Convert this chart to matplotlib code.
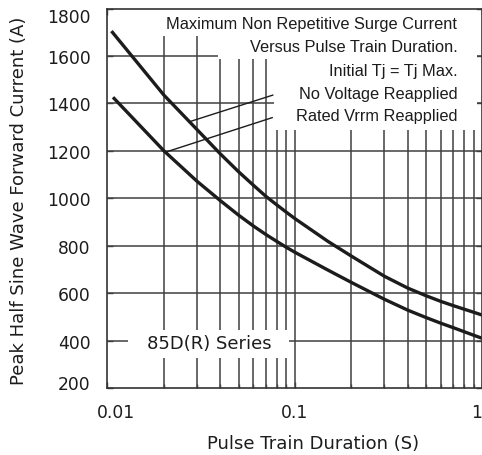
import matplotlib
matplotlib.use("Agg")
import matplotlib.pyplot as plt
import matplotlib.transforms as mtransforms
from matplotlib.patches import Polygon, Rectangle

# ---- data ----
no_voltage_x = [0.0105, 0.02, 0.03, 0.04, 0.05, 0.06, 0.07, 0.08, 0.09, 0.1,
                0.15, 0.2, 0.3, 0.4, 0.5, 0.6, 0.7, 0.8, 0.9, 1.0]
no_voltage_y = [1705, 1435, 1290, 1187, 1112, 1055, 1008, 972, 941, 914,
                818, 756, 671, 621, 589, 565, 547, 532, 519, 507]

rated_vrrm_x = [0.0107, 0.02, 0.03, 0.04, 0.05, 0.06, 0.07, 0.08, 0.09, 0.1,
                0.15, 0.2, 0.3, 0.4, 0.5, 0.6, 0.7, 0.8, 0.9, 1.0]
rated_vrrm_y = [1426, 1200, 1072, 990, 929, 883, 847, 818, 793, 772,
                697, 645, 574, 528, 497, 473, 454, 437, 422, 409]

x_ticks = [0.01, 0.1, 1]
x_tick_labels = ["0.01", "0.1", "1"]
y_ticks = [200, 400, 600, 800, 1000, 1200, 1400, 1600, 1800]

info_lines = ["Maximum Non Repetitive Surge Current",
              "Versus Pulse Train Duration.",
              "Initial Tj = Tj Max.",
              "No Voltage Reapplied",
              "Rated Vrrm Reapplied"]
series_label = "85D(R) Series"

# leader lines: (point on curve) -> (text end)
leader_no_voltage = [(0.0274, 1323), (0.0761, 1435)]
leader_rated = [(0.0205, 1195), (0.0756, 1340)]

# ---- figure ----
fig = plt.figure(figsize=(4.82, 4.56), dpi=100)
ax = fig.add_axes([0.223, 0.147, 0.778, 0.832])
ax.set_xscale("log")
ax.set_xlim(0.01, 1)
ax.set_ylim(200, 1800)

ink = "#1c1c1c"
gridc = "#404040"

# grid lines (manual so white boxes can cover them)
for dec in (0.01, 0.1):
    for k in range(1, 10):
        v = dec * k
        if v > 0.01:
            ax.axvline(v, color=gridc, lw=1.1, zorder=1)
for yv in y_ticks[1:-1]:
    ax.axhline(yv, color=gridc, lw=1.1, zorder=1)

# white background behind the text block
poly = Polygon([(0.135, 1.0), (0.986, 1.0), (0.986, 0.680), (0.443, 0.680),
                (0.443, 0.867), (0.295, 0.867), (0.295, 0.9275), (0.135, 0.9275)],
               closed=True, transform=ax.transAxes, facecolor="white",
               edgecolor="none", zorder=2)
ax.add_patch(poly)
ax.add_patch(Rectangle((0.055, 0.079), 0.429, 0.074, transform=ax.transAxes,
                       facecolor="white", edgecolor="none", zorder=2))

# curves
ax.plot(no_voltage_x, no_voltage_y, color=ink, lw=2.4, zorder=3,
        solid_capstyle="butt", solid_joinstyle="round")
ax.plot(rated_vrrm_x, rated_vrrm_y, color=ink, lw=2.4, zorder=3,
        solid_capstyle="butt", solid_joinstyle="round")

# leader lines
for seg in (leader_no_voltage, leader_rated):
    ax.plot([seg[0][0], seg[1][0]], [seg[0][1], seg[1][1]], color=ink,
            lw=1.0, zorder=3)

# text block
ys = [0.960, 0.899, 0.837, 0.777, 0.719]
for t, yy in zip(info_lines, ys):
    ax.text(0.933, yy, t, transform=ax.transAxes, ha="right", va="center",
            fontsize=11.8, family="Liberation Sans", color=ink, zorder=4)

ax.text(0.272, 0.118, series_label, transform=ax.transAxes, ha="center",
        va="center", fontsize=13, family="DejaVu Sans", color=ink, zorder=4)

# ticks
ax.set_xticks(x_ticks)
ax.set_xticklabels(x_tick_labels)
ax.set_yticks(y_ticks)
ax.set_yticklabels([str(v) for v in y_ticks])
ax.tick_params(which="both", direction="in", top=True, right=True,
               color=gridc, width=1.0)
ax.tick_params(which="major", length=4)
ax.tick_params(which="minor", length=3)
ax.tick_params(axis="y", pad=12)
ax.tick_params(axis="x", pad=11)
for lab in ax.get_xticklabels() + ax.get_yticklabels():
    lab.set_family("DejaVu Sans")
    lab.set_fontsize(12.3)
    lab.set_color(ink)
ax.xaxis.set_minor_formatter(matplotlib.ticker.NullFormatter())

# shift extreme labels inward like the reference
ylabs = ax.get_yticklabels()
ylabs[-1].set_transform(ylabs[-1].get_transform() +
                        mtransforms.ScaledTranslation(0, -6 / 100, fig.dpi_scale_trans))
ylabs[0].set_transform(ylabs[0].get_transform() +
                       mtransforms.ScaledTranslation(0, 6 / 100, fig.dpi_scale_trans))
xlabs = ax.get_xticklabels()
xlabs[0].set_transform(xlabs[0].get_transform() +
                       mtransforms.ScaledTranslation(9 / 100, 0, fig.dpi_scale_trans))
xlabs[-1].set_transform(xlabs[-1].get_transform() +
                        mtransforms.ScaledTranslation(-6 / 100, 0, fig.dpi_scale_trans))

for sp in ax.spines.values():
    sp.set_color("#333333")
    sp.set_linewidth(1.2)
    sp.set_zorder(5)

ax.set_xlabel("Pulse Train Duration (S)", family="DejaVu Sans", fontsize=13,
              color=ink)
ax.xaxis.set_label_coords(0.547, -0.145)
ax.xaxis.label.set_va("center")
ax.set_ylabel("Peak Half Sine Wave Forward Current (A)", family="DejaVu Sans",
              fontsize=13, color=ink)
ax.yaxis.set_label_coords(-0.236, 0.495)
ax.yaxis.label.set_va("center")

fig.savefig("out.png", dpi=100)
